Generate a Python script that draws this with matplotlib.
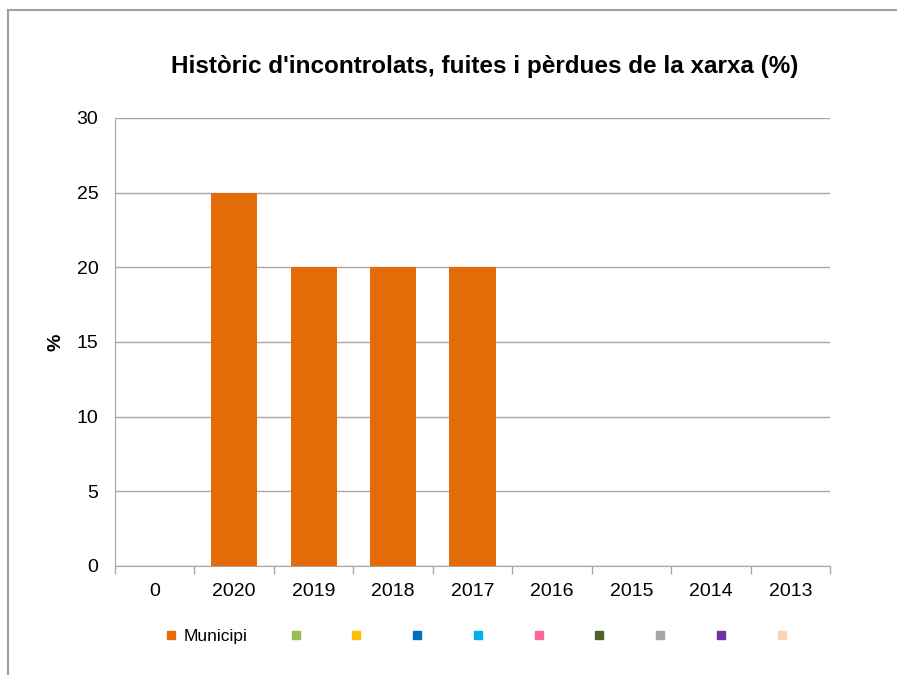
import numpy as np
import matplotlib.pyplot as plt
from matplotlib.lines import Line2D

# leakage history by year
years = ['0', '2020', '2019', '2018', '2017', '2016', '2015', '2014', '2013']
municipi = [0, 25, 20, 20, 20, 0, 0, 0, 0]

# legend series (only the municipality has values)
series_names = ['Municipi', '', '', '', '', '', '', '', '', '']
series_colors = ['#E36C09', '#9BBB59', '#FFC000', '#0070C0', '#00B0F0',
                 '#FF6699', '#4F6228', '#A6A6A6', '#7030A0', '#FCD5B5']

plt.rcParams['font.family'] = ['Liberation Sans', 'DejaVu Sans']

W, H = 897, 675
fig = plt.figure(figsize=(W/100, H/100), dpi=100)
ax = fig.add_axes([115/W, 1 - 566/H, (830 - 115)/W, (566 - 118)/H])

x = np.arange(len(years))
ax.bar(x, municipi, width=0.58, color=series_colors[0], zorder=3)

ax.set_xlim(-0.5, len(years) - 0.5)
ax.set_ylim(0, 30)
ax.set_yticks(np.arange(0, 31, 5))
ax.yaxis.grid(True, color='#A6A6A6', lw=1, zorder=0)
ax.tick_params(axis='y', length=0, labelsize=14, pad=12)

# category labels centred, tick marks at category boundaries
ax.set_xticks(x)
ax.set_xticklabels(years)
ax.set_xticks(np.arange(-0.5, len(years)), minor=True)
ax.tick_params(axis='x', which='major', length=0, labelsize=14, pad=12)
ax.tick_params(axis='x', which='minor', length=6, color='#A6A6A6', width=1)

for s in ['top', 'right']:
    ax.spines[s].set_visible(False)
for s in ['left', 'bottom']:
    ax.spines[s].set_color('#A6A6A6')
ax.spines['left'].set_bounds(0, 30)

ax.set_ylabel('%', fontsize=14, fontweight='bold', labelpad=9)

fig.text(485/W, 1 - 67/H, "Històric d'incontrolats, fuites i pèrdues de la xarxa (%)",
         ha='center', va='center', fontsize=17.5, fontweight='bold')

handles = [Line2D([], [], marker='s', ls='none', markersize=6, color=c)
           for c in series_colors]
fig.legend(handles, series_names, loc='center', bbox_to_anchor=(479/W, 1 - 636/H),
           ncol=len(handles), frameon=False, fontsize=12.5, handlelength=0.8,
           handletextpad=0.3, columnspacing=2.4)

# outer chart frame
fig.add_artist(Line2D([8/W, 1], [1 - 10/H, 1 - 10/H], color='#A0A0A0', lw=1.5))
fig.add_artist(Line2D([8/W, 8/W], [0, 1 - 10/H], color='#A0A0A0', lw=1.5))

fig.savefig('out.png', dpi=100)
